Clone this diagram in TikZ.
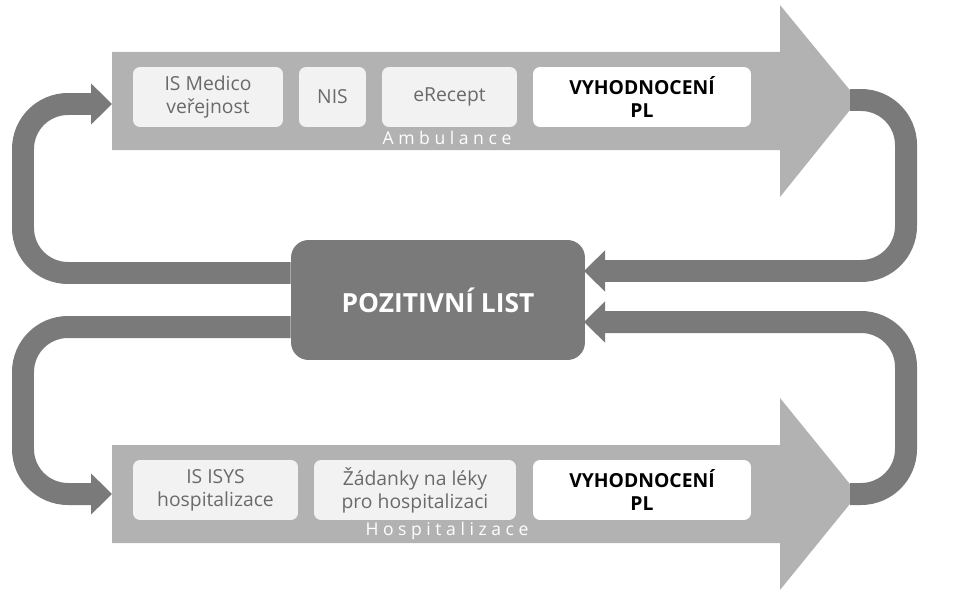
\documentclass[tikz,border=0pt]{standalone}
\usepackage{fontspec}
\setmainfont{Open Sans}
\usetikzlibrary{arrows.meta}
\definecolor{arrowgray}{HTML}{B2B2B2}
\definecolor{loopgray}{HTML}{7A7A7A}
\definecolor{boxgray}{HTML}{F2F2F2}
\definecolor{txtgray}{HTML}{6A6A6A}
\begin{document}
\begin{tikzpicture}[x=0.02cm,y=-0.02cm,
  font=\fontsize{11}{13}\selectfont,
  item/.style={fill=boxgray,rounded corners=4pt,text=txtgray,align=center,inner sep=0pt,minimum height=1.2cm},
  result/.style={item,fill=white,text=black,font=\fontsize{11}{13}\selectfont\bfseries},
  loop/.style={draw=loopgray,line width=0.44cm,rounded corners=0.9cm,-{Triangle[length=0.42cm,width=0.8cm]}}]
\useasboundingbox (0,0) rectangle (960,608);

% Ambulance
\fill[arrowgray] (112,52) -- (780,52) -- (780,5) -- (858,100) -- (780,197) -- (780,150) -- (112,150) -- cycle;
\node[item,minimum width=3cm] (medico) at (208,97) {IS Medico\\veřejnost};
\node[item,minimum width=1.34cm] (nis) at (332.5,97) {NIS};
\node[item,minimum width=2.7cm] (erecept) at (449.5,97) {eRecept};
\node[result,minimum width=4.36cm] (vyhA) at (642,97) {VYHODNOCENÍ\\PL};
\node[text=white,font=\fontsize{10}{12}\selectfont] (amb) at (447,138) {A m b u l a n c e};

% Hospitalizace
\fill[arrowgray] (112,445) -- (780,445) -- (780,398) -- (858,494) -- (780,590) -- (780,543) -- (112,543) -- cycle;
\node[item,minimum width=3.3cm] (isys) at (215.5,490) {IS ISYS\\hospitalizace};
\node[item,minimum width=4.04cm] (zadanky) at (415,490) {Žádanky na léky\\pro hospitalizaci};
\node[result,minimum width=4.36cm] (vyhH) at (642,490) {VYHODNOCENÍ\\PL};
\node[text=white,font=\fontsize{10}{12}\selectfont] (hosp) at (447,531) {H o s p i t a l i z a c e};

% Pozitivni list
\node[fill=loopgray,rounded corners=10pt,minimum width=5.88cm,minimum height=2.4cm,
  text=white,font=\fontsize{15}{18}\selectfont\bfseries] (pl) at (438,300) {POZITIVNÍ LIST};

% smycky
\coordinate (inA) at (112,104);
\coordinate (inH) at (112,494);
\coordinate (outA) at (850,100);
\coordinate (outH) at (850,494);
\coordinate (plA) at (584,271);
\coordinate (plH) at (584,322);
\draw[loop] (pl.west|-0,273) -- (23,273) -- (23,104) -- (inA);
\draw[loop] (pl.west|-0,327) -- (23,327) -- (23,494) -- (inH);
\draw[loop] (outA) -- (906,100) -- (906,271) -- (plA);
\draw[loop] (outH) -- (906,494) -- (906,322) -- (plH);
\end{tikzpicture}
\end{document}
